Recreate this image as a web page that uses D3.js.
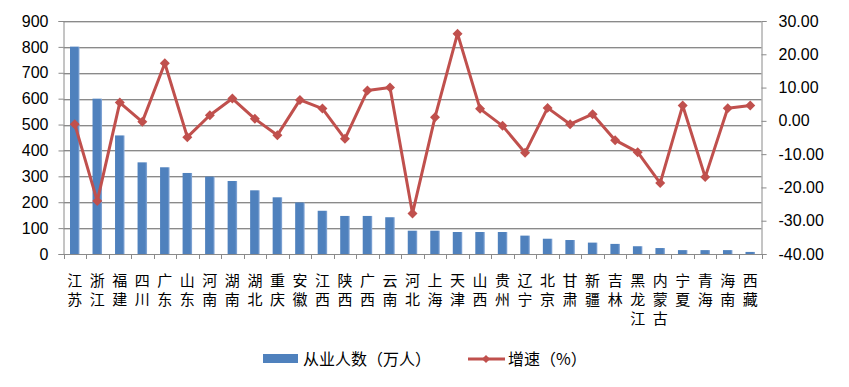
<!DOCTYPE html>
<html>
<head>
<meta charset="utf-8">
<script src="https://cdn.jsdelivr.net/npm/d3@7"></script>
<style>
  body { margin: 0; background: #fff; }
  svg text { font-family: "Liberation Sans", Arial, sans-serif; }
  .cjk { font-family: "Noto Sans CJK SC", sans-serif; }
</style>
</head>
<body>
<svg id="chart" width="849" height="387"></svg>
<script>
// provinces, workers (10k people) and growth rate (%)
const provinces = ["江苏","浙江","福建","四川","广东","山东","河南","湖南","湖北","重庆","安徽","江西","陕西","广西","云南","河北","上海","天津","山西","贵州","辽宁","北京","甘肃","新疆","吉林","黑龙江","内蒙古","宁夏","青海","海南","西藏"];
const workers = [801, 600, 458, 354, 335, 313, 299, 282, 246, 219, 199, 167, 147, 147, 142, 90, 90, 85, 85, 85, 71, 59, 54, 44, 39, 30, 23, 15, 15, 15, 8];
const growth = [-1.0, -24.1, 5.5, -0.3, 17.3, -4.9, 1.7, 6.7, 0.6, -4.3, 6.3, 3.7, -5.4, 9.1, 10.0, -27.8, 1.1, 26.2, 3.6, -1.5, -9.6, 3.9, -1.0, 2.0, -5.8, -9.4, -18.7, 4.6, -16.9, 3.8, 4.6];
const leftTicks = [0, 100, 200, 300, 400, 500, 600, 700, 800, 900];
const rightTicks = [-40, -30, -20, -10, 0, 10, 20, 30];
const legendLabels = ["从业人数（万人）", "增速（%）"];

const svg = d3.select("#chart");
const plotL = 63.5, plotR = 761.5, plotT = 21, plotB = 254;
const barColor = "#4F81BD", lineColor = "#C0504D";

let x = d3.scaleBand().domain(provinces).range([plotL, plotR]);
let yL = d3.scaleLinear().domain([0, 900]).range([plotB, plotT]);
let yR = d3.scaleLinear().domain([-40, 30]).range([plotB, plotT]);

// gridlines
let grid = svg.append("g");
leftTicks.filter(d => d > 0).forEach(t => {
    let yy = Math.round(yL(t));
    grid.append("line").attr("x1", plotL).attr("x2", plotR)
        .attr("y1", yy + 1.5).attr("y2", yy + 1.5).attr("stroke", "#d4d4d4");
    grid.append("line").attr("x1", plotL).attr("x2", plotR)
        .attr("y1", yy + 0.5).attr("y2", yy + 0.5).attr("stroke", "#8a8a8a");
});

// bars
let defs = svg.append("defs");
let grad = defs.append("linearGradient").attr("id", "barGrad")
    .attr("x1", "0").attr("x2", "1").attr("y1", "0").attr("y2", "0");
grad.append("stop").attr("offset", "0.8").attr("stop-color", barColor);
grad.append("stop").attr("offset", "1").attr("stop-color", "#8EAEDB");

let bw = 9.5;
svg.append("g").selectAll("rect")
    .data(provinces)
    .enter()
    .append("rect")
    .attr("x", d => x(d) + x.bandwidth() / 2 - bw / 2)
    .attr("y", (d, i) => yL(workers[i]))
    .attr("width", bw)
    .attr("height", (d, i) => plotB - yL(workers[i]))
    .attr("fill", "url(#barGrad)");

// axes
let axisL = svg.append("g").attr("transform", `translate(${plotL},0)`)
    .call(d3.axisLeft(yL).tickValues(leftTicks).tickSize(5).tickPadding(10));
let axisR = svg.append("g").attr("transform", `translate(${plotR},0)`)
    .call(d3.axisRight(yR).tickValues(rightTicks).tickSize(5).tickPadding(12)
        .tickFormat(d3.format(".2f")));
let axisB = svg.append("g").attr("transform", `translate(0,${plotB})`)
    .call(d3.axisBottom(x).tickSize(0).tickFormat(""));

[axisL, axisR, axisB].forEach(a => {
    a.select(".domain").attr("stroke", "#8a8a8a");
    a.selectAll(".tick line").attr("stroke", "#8a8a8a");
    a.selectAll(".tick text").attr("font-size", 16).attr("fill", "#000")
        .attr("font-family", "Liberation Sans, Arial, sans-serif");
});
axisR.selectAll(".tick text").text(d => d3.format(".2f")(d).replace("−", "-"));

// category tick marks at band edges
let edges = provinces.map(d => x(d)).concat([plotR]);
svg.append("g").selectAll("line")
    .data(edges)
    .enter()
    .append("line")
    .attr("x1", d => Math.round(d) + 0.5).attr("x2", d => Math.round(d) + 0.5)
    .attr("y1", plotB).attr("y2", plotB + 5)
    .attr("stroke", "#8a8a8a");

// vertical category labels
let labels = svg.append("g").attr("class", "cjk");
provinces.forEach(p => {
    Array.from(p).forEach((ch, k) => {
        labels.append("text")
            .attr("x", x(p) + x.bandwidth() / 2)
            .attr("y", 286 + k * 19)
            .attr("text-anchor", "middle")
            .attr("font-size", 15)
            .attr("class", "cjk")
            .text(ch);
    });
});

// growth line
let line = d3.line()
    .x((d, i) => x(provinces[i]) + x.bandwidth() / 2)
    .y(d => yR(d));
svg.append("path")
    .datum(growth)
    .attr("d", line)
    .attr("fill", "none")
    .attr("stroke", lineColor)
    .attr("stroke-width", 3)
    .attr("stroke-linejoin", "round");

let diamond = d3.symbol().type(d3.symbolSquare).size(50);
svg.append("g").selectAll("path")
    .data(growth)
    .enter()
    .append("path")
    .attr("d", diamond)
    .attr("transform", (d, i) => `translate(${x(provinces[i]) + x.bandwidth() / 2},${yR(d)}) rotate(45)`)
    .attr("fill", lineColor);

// legend
let lg = svg.append("g");
lg.append("rect").attr("x", 263).attr("y", 354).attr("width", 35).attr("height", 9).attr("fill", barColor);
lg.append("text").attr("class", "cjk").attr("x", 303).attr("y", 364.5)
    .attr("font-size", 16).text(legendLabels[0]);
lg.append("line").attr("x1", 468).attr("x2", 505).attr("y1", 359).attr("y2", 359)
    .attr("stroke", lineColor).attr("stroke-width", 3);
lg.append("path").attr("d", d3.symbol().type(d3.symbolSquare).size(34))
    .attr("transform", "translate(486,359) rotate(45)").attr("fill", lineColor);
lg.append("text").attr("class", "cjk").attr("x", 508).attr("y", 364.5)
    .attr("font-size", 16).text(legendLabels[1]);
</script>
</body>
</html>
